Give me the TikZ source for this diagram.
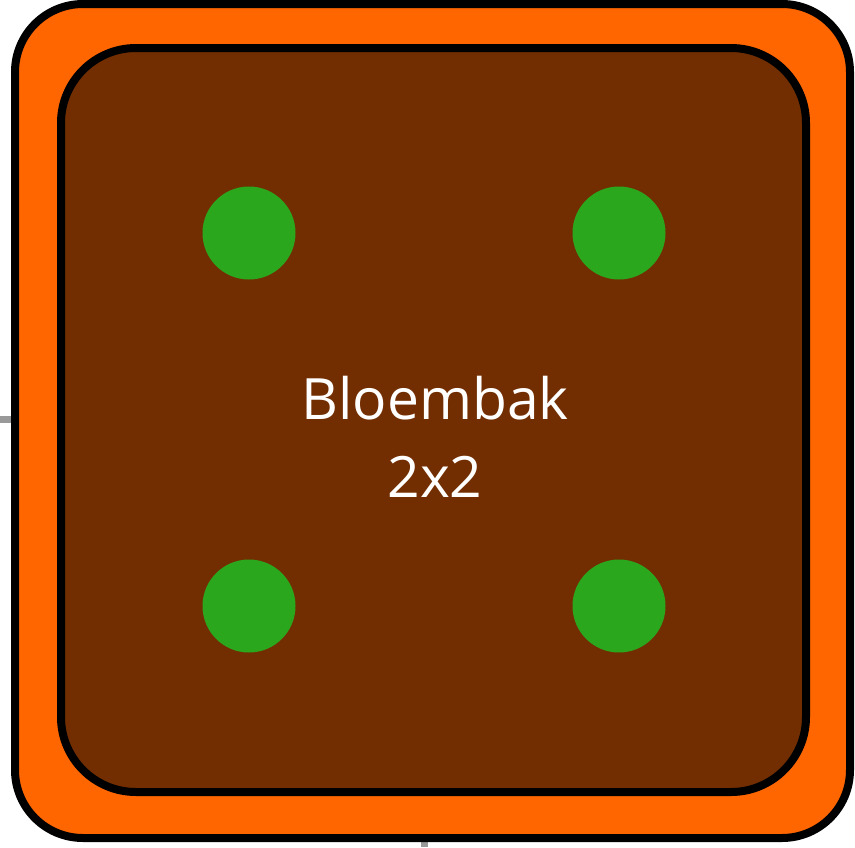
\documentclass[tikz,border=0pt]{standalone}
\usepackage{fontspec}
\setmainfont{Open Sans}
\definecolor{boxorange}{RGB}{255,102,0}
\definecolor{soilbrown}{RGB}{114,46,0}
\definecolor{plantgreen}{RGB}{43,167,30}
\definecolor{stubgray}{RGB}{153,153,153}
\begin{document}
\begin{tikzpicture}[x=1pt,y=-1pt,
  frame/.style={draw=black,line width=8pt},
  plant/.style={circle,fill=plantgreen,inner sep=0pt,minimum size=93pt},
  lbl/.style={text=white,font=\fontsize{57}{78}\selectfont,inner sep=0pt,anchor=base},
  stub/.style={draw=stubgray,line width=7pt}]
\useasboundingbox (0,0) rectangle (855,847);
\coordinate (sl1) at (0,419.5);
\coordinate (sl2) at (20,419.5);
\coordinate (sb1) at (424.5,830);
\coordinate (sb2) at (424.5,847);
\draw[stub] (sl1) -- (sl2);
\draw[stub] (sb1) -- (sb2);
\draw[frame,fill=boxorange,rounded corners=68pt] (15,4) rectangle (850,838);
\draw[frame,fill=soilbrown,rounded corners=75pt] (61,48) rectangle (806,792);
\node[plant] (p1) at (249,233) {};
\node[plant] (p2) at (619,233) {};
\node[plant] (p3) at (249,606) {};
\node[plant] (p4) at (619,606) {};
\node[lbl] (t1) at (435,419) {Bloembak};
\node[lbl] (t2) at (435,497) {2x2};
\end{tikzpicture}
\end{document}
